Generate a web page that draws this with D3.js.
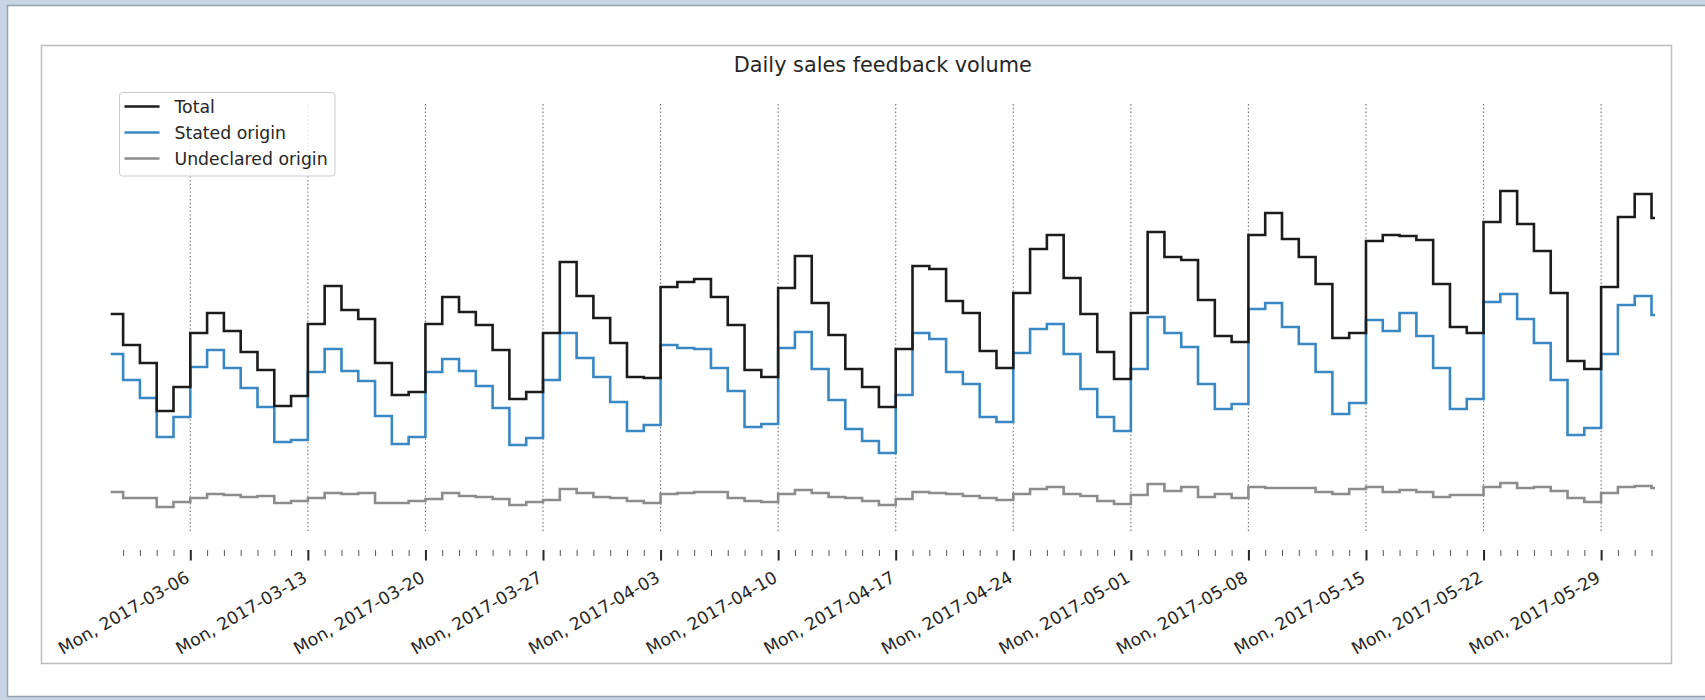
<!DOCTYPE html>
<html>
<head>
<meta charset="utf-8">
<script src="https://cdn.jsdelivr.net/npm/d3@7/dist/d3.min.js"></script>
<style>
  body { margin: 0; background: #c7d5e4; }
  svg { display: block; }
  text { font-family: "DejaVu Sans", sans-serif; fill: #262626; }
</style>
</head>
<body>
<svg class="svg_chart" width="1705" height="700"></svg>
<script>
// daily feedback counts, 2017-03-01 .. 2017-06-01
var firstDay = "2017-03-01", lastDay = "2017-06-02";
var xStart = "2017-03-01T06:15", xEnd = "2017-06-01T05:00";

var total = [246, 215, 197, 149, 173, 227, 247, 229, 208, 190, 154, 164, 236, 274, 250, 241,
             197, 165, 168, 236, 263, 248, 235, 210, 161, 168, 227, 298, 264, 242, 217, 183,
             182, 273, 278, 281, 263, 235, 190, 183, 272, 304, 257, 225, 191, 173, 153, 211,
             294, 291, 259, 247, 209, 192, 267, 311, 325, 282, 246, 208, 181, 247, 328, 303,
             300, 260, 224, 218, 325, 347, 321, 303, 276, 222, 227, 319, 325, 324, 320, 276,
             233, 227, 338, 369, 336, 309, 267, 199, 191, 273, 343, 366, 342];
var stated = [206, 180, 162, 123, 143, 193, 210, 192, 172, 153, 118, 120, 188, 211, 189, 179,
              144, 116, 123, 188, 201, 189, 174, 152, 115, 122, 180, 227, 202, 183, 158, 129,
              135, 215, 212, 211, 192, 169, 133, 136, 212, 228, 191, 160, 131, 119, 107, 165,
              227, 221, 188, 176, 143, 138, 207, 231, 236, 206, 171, 143, 129, 191, 243, 227,
              213, 176, 151, 156, 251, 257, 233, 216, 188, 146, 157, 240, 229, 247, 224, 192,
              151, 161, 258, 266, 241, 217, 180, 125, 132, 206, 255, 264, 245];
var undeclared = [68, 62, 62, 53, 58, 62, 66, 65, 63, 64, 57, 59, 62, 67, 66, 67,
                  57, 57, 59, 61, 67, 64, 63, 61, 55, 58, 60, 71, 67, 63, 62, 59,
                  57, 66, 67, 68, 68, 62, 59, 58, 66, 70, 67, 63, 62, 59, 55, 61,
                  68, 67, 66, 64, 62, 60, 66, 71, 73, 66, 64, 59, 56, 65, 76, 69,
                  73, 63, 66, 62, 73, 72, 72, 72, 68, 66, 71, 73, 68, 70, 68, 63,
                  65, 65, 73, 77, 72, 73, 69, 62, 58, 67, 73, 74, 72];

var seriesNames = ["Total", "Stated origin", "Undeclared origin"];
var seriesColors = ["#1c1c1c", "#3a88c3", "#8c8c8c"];
var chartTitle = "Daily sales feedback volume";

var svg = d3.select(".svg_chart");

// screenshot window + figure border
svg.append("rect")
    .attr("x", 7.5).attr("y", 5.5)
    .attr("width", 1720).attr("height", 691)
    .attr("fill", "#fff")
    .attr("stroke", "#9aa3ad").attr("stroke-width", 1.5);
svg.append("rect")
    .attr("x", 41.5).attr("y", 45.5)
    .attr("width", 1630).attr("height", 618)
    .attr("fill", "#fff")
    .attr("stroke", "#bdbdbd").attr("stroke-width", 1.5);

var days = d3.utcDay.range(d3.isoParse(firstDay), d3.isoParse(lastDay));
var parse = d3.utcParse("%Y-%m-%dT%H:%M");

var plotLeft = 110.7, plotRight = 1655,
    gridTop = 104, gridBottom = 533, axisY = 550;

var x = d3.scaleUtc()
    .domain([parse(xStart), parse(xEnd)])
    .range([plotLeft, plotRight]);
var y = d3.scaleLinear()
    .domain([0, 390])
    .range([560, 170]);

var g = svg.append("g");

g.append("clipPath").attr("id", "plotclip")
  .append("rect")
    .attr("x", plotLeft).attr("y", 0)
    .attr("width", plotRight - plotLeft).attr("height", 700);

// weekly dotted grid on mondays
var mondays = x.ticks(d3.utcMonday.every(1));
g.selectAll(".grid")
    .data(mondays)
  .enter().append("line")
    .attr("class", "grid")
    .attr("x1", function(d) { return x(d); })
    .attr("x2", function(d) { return x(d); })
    .attr("y1", gridTop)
    .attr("y2", gridBottom)
    .attr("stroke", "#6e6e6e")
    .attr("stroke-width", 1.1)
    .attr("stroke-dasharray", "1.4,2.4");

// x axis, major (mondays) + minor (days)
var minorDays = x.ticks(d3.utcDay.every(1)).filter(function(d) { return d.getUTCDay() != 1; });

var minorAxis = g.append("g")
    .attr("transform", "translate(0," + axisY + ")")
    .call(d3.axisBottom(x).tickValues(minorDays).tickSize(6).tickFormat(""));
minorAxis.select(".domain").remove();
minorAxis.selectAll("line").attr("stroke", "#555").attr("stroke-width", 1);

var majorAxis = g.append("g")
    .attr("transform", "translate(0," + axisY + ")")
    .call(d3.axisBottom(x).tickValues(mondays).tickSize(10.5).tickFormat(d3.utcFormat("%a, %Y-%m-%d")));
majorAxis.select(".domain").remove();
majorAxis.selectAll("line").attr("stroke", "#262626").attr("stroke-width", 2);
majorAxis.selectAll("text")
    .attr("font-size", "17.3px")
    .attr("fill", "#262626")
    .attr("text-anchor", "end")
    .attr("dy", null)
    .attr("y", null)
    .attr("transform", "translate(0,31) rotate(-30)");

// step lines
var line = d3.line()
    .x(function(d) { return x(d[0]); })
    .y(function(d) { return y(d[1]); })
    .curve(d3.curveStepAfter);

var series = [total, stated, undeclared];
var lines = g.append("g").attr("clip-path", "url(#plotclip)");
series.slice().reverse().forEach(function(values, i) {
    var idx = series.length - 1 - i;
    var pts = days.map(function(d, j) { return [d, values[j]]; });
    pts.push([parse(xEnd), values[values.length - 1]]);
    lines.append("path")
        .datum(pts)
        .attr("d", line)
        .attr("fill", "none")
        .attr("stroke", seriesColors[idx])
        .attr("stroke-width", 2.6)
        .attr("stroke-linejoin", "miter");
});

// title
svg.append("text")
    .attr("x", (plotLeft + plotRight) / 2)
    .attr("y", 72)
    .attr("text-anchor", "middle")
    .attr("font-size", "20.8px")
    .text(chartTitle);

// legend
var legend = svg.append("g").attr("transform", "translate(119.5,92.5)");
legend.append("rect")
    .attr("width", 215.5).attr("height", 83.5)
    .attr("rx", 3).attr("ry", 3)
    .attr("fill", "#fff").attr("fill-opacity", 0.8)
    .attr("stroke", "#cccccc").attr("stroke-width", 1);

var items = legend.selectAll(".item")
    .data(seriesNames)
  .enter().append("g")
    .attr("class", "item")
    .attr("transform", function(d, i) { return "translate(0," + (14 + i * 26) + ")"; });
items.append("line")
    .attr("x1", 5).attr("x2", 40)
    .attr("stroke", function(d, i) { return seriesColors[i]; })
    .attr("stroke-width", 2.6);
items.append("text")
    .attr("x", 55)
    .attr("dy", "0.35em")
    .attr("font-size", "17.3px")
    .text(function(d) { return d; });
</script>
</body>
</html>
